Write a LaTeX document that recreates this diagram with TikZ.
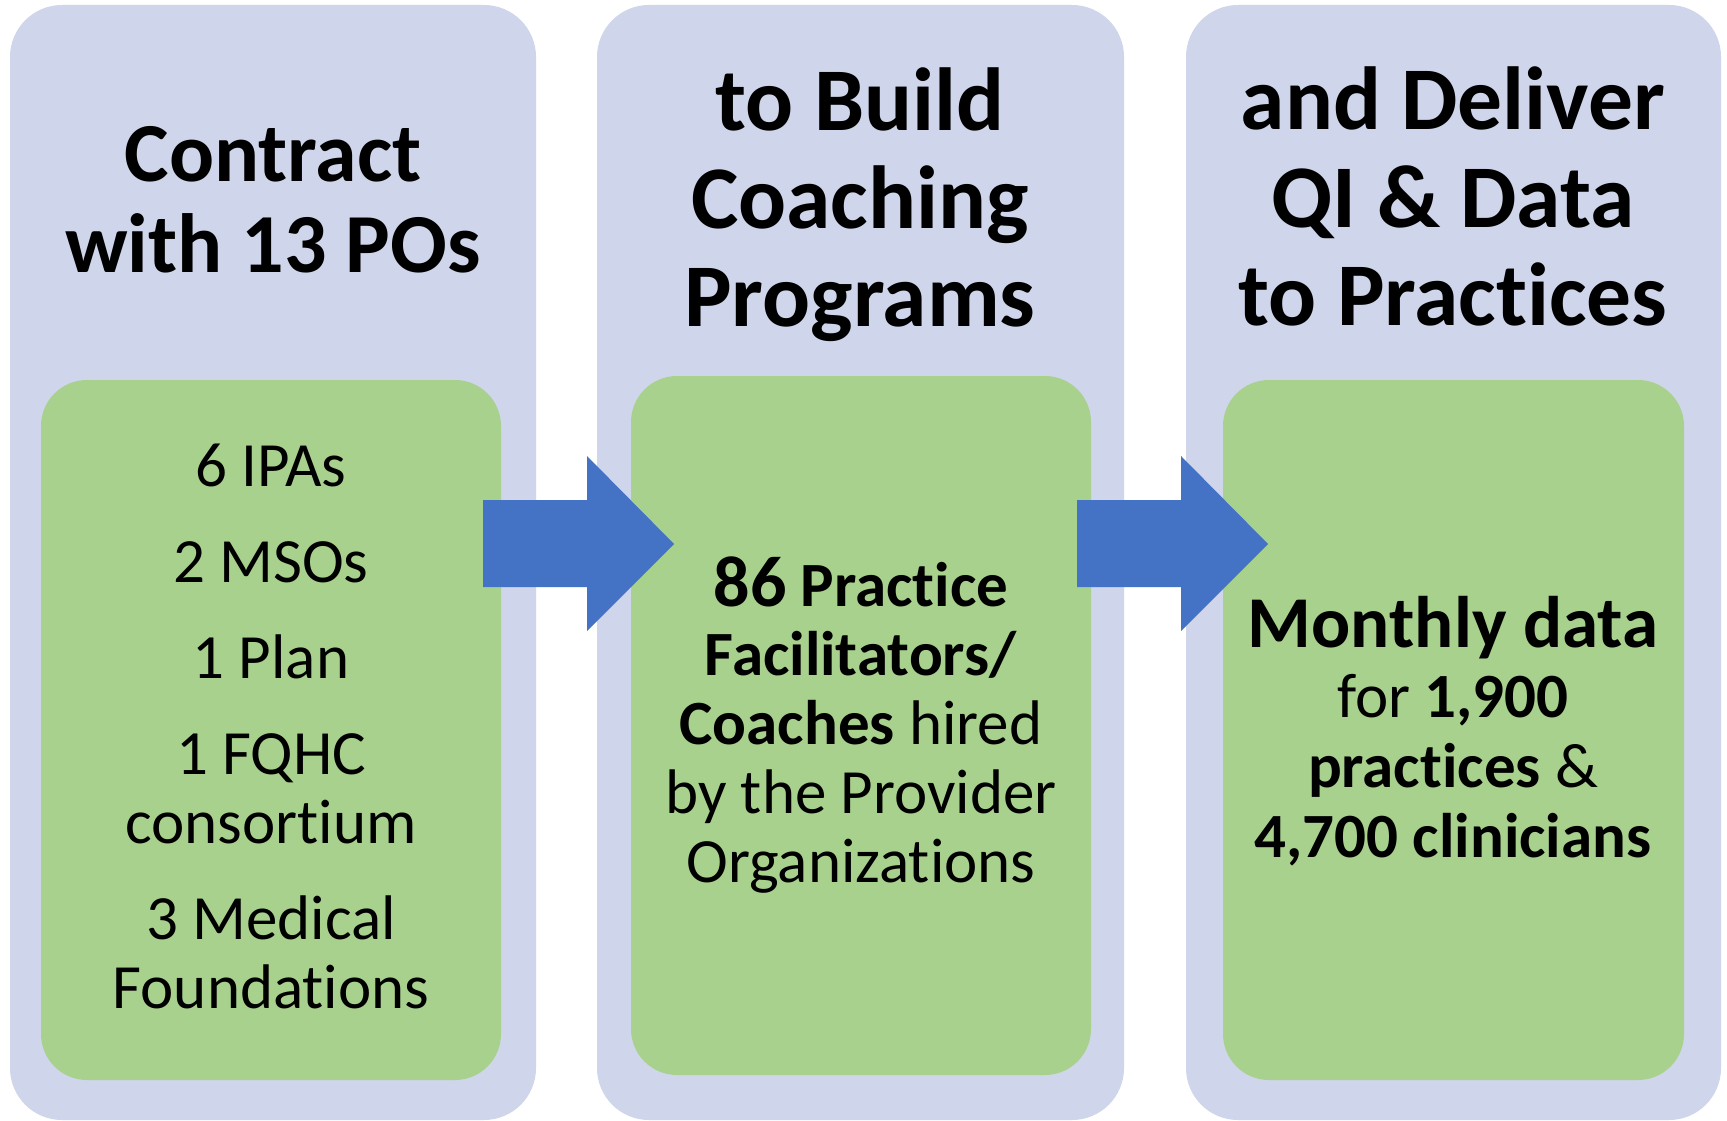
\documentclass[tikz,border=0pt]{standalone}
\usepackage{fontspec}
\setmainfont{Carlito}[RawFeature={-liga;-calt;-dlig}]
\definecolor{stagefill}{RGB}{207,213,234}
\definecolor{detailfill}{RGB}{169,209,142}
\definecolor{flowblue}{RGB}{68,114,196}
\begin{document}
\begin{tikzpicture}[x=1pt,y=-1pt,
  stagebox/.style={fill=stagefill, rounded corners=52pt},
  detailbox/.style={fill=detailfill, rounded corners=46pt},
  flowarrow/.style={fill=flowblue},
  headA/.style={font=\bfseries\fontsize{84}{91}\selectfont, text width=500pt, align=flush center, inner sep=0pt, anchor=base},
  headB/.style={font=\bfseries\fontsize{89.5}{98}\selectfont, text width=500pt, align=flush center, inner sep=0pt, anchor=base},
  bodytext/.style={font=\fontsize{63}{69}\selectfont, text width=460pt, align=flush center, inner sep=0pt, anchor=base}
]
\useasboundingbox (0,0) rectangle (1727,1121);
\fill[white] (0,0) rectangle (1727,1121);

% three stage panels
\fill[stagebox] (10,5) rectangle (536,1120);
\fill[stagebox] (597,5) rectangle (1124,1120);
\fill[stagebox] (1186,5) rectangle (1721,1120);

% inner detail panels
\fill[detailbox] (41,380) rectangle (501,1080);
\fill[detailbox] (631,376) rectangle (1091,1075);
\fill[detailbox] (1223,380) rectangle (1684,1080);

% block arrows between the stages
\fill[flowarrow] (483,500) -- (587,500) -- (587,456) -- (674,544) -- (587,631) -- (587,587) -- (483,587) -- cycle;
\fill[flowarrow] (1077,500) -- (1181,500) -- (1181,456) -- (1268,544) -- (1181,631) -- (1181,587) -- (1077,587) -- cycle;

% stage headings
\node[headA] (head1) at (273,182) {Contract\\with 13 POs};
\node[headB] (head2) at (860,131) {to Build\\Coaching\\Programs};
\node[headB] (head3) at (1453,130) {and Deliver\\QI \& Data\\to Practices};

% stage details
\node[bodytext] (body1) at (271,486) {6 IPAs\\[27pt]2 MSOs\\[27pt]1 Plan\\[27pt]1 FQHC\\consortium\\[27pt]3 Medical\\Foundations};
\node[bodytext] (body2) at (861,606) {\textbf{{\fontsize{72}{69}\selectfont 86} Practice}\\\textbf{Facilitators/}\\\textbf{Coaches} hired\\by the Provider\\Organizations};
\node[bodytext, font=\fontsize{63}{70}\selectfont] (body3) at (1453,647) {\textbf{\fontsize{73}{70}\selectfont Monthly data}\\for \textbf{1,900}\\\textbf{practices} \&\\\textbf{4,700 clinicians}};
\end{tikzpicture}
\end{document}
